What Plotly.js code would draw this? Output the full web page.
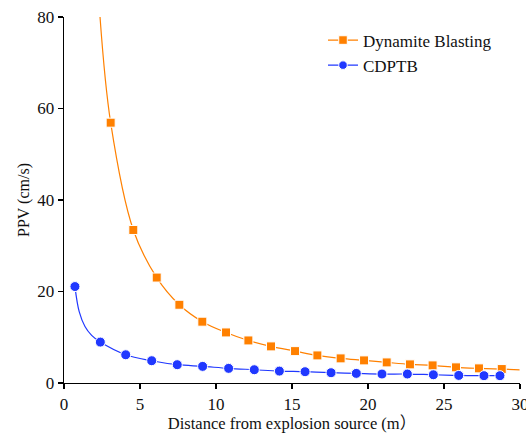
<!DOCTYPE html>
<html>
<head>
<meta charset="utf-8">
<script src="https://cdn.plot.ly/plotly-3.0.1.min.js"></script>
<style>html,body{margin:0;padding:0;background:#fff;}#chart{width:526px;height:434px;}</style>
</head>
<body>
<div id="chart"></div>
<script>
// Dynamite Blasting: measured markers
const dynX = [3.07, 4.56, 6.1, 7.59, 9.1, 10.66, 12.13, 13.62, 15.2, 16.67, 18.2, 19.74, 21.23, 22.76, 24.25, 25.79, 27.3, 28.8, 30.3];
const dynY = [56.9, 33.45, 23.05, 17.1, 13.4, 11.05, 9.3, 8.0, 6.97, 6.03, 5.38, 4.94, 4.5, 4.07, 3.85, 3.42, 3.2, 3.05, 2.85];
// Dynamite Blasting: extra points
const dynCurveX = [2.37];
const dynCurveY = [80];

// CDPTB: measured markers
const cdX = [0.72, 2.39, 4.06, 5.77, 7.45, 9.12, 10.83, 12.52, 14.17, 15.86, 17.57, 19.23, 20.92, 22.59, 24.3, 25.97, 27.63, 28.68];
const cdY = [21.08, 8.94, 6.17, 4.87, 4.0, 3.63, 3.2, 2.9, 2.6, 2.47, 2.25, 2.1, 1.96, 1.96, 1.8, 1.66, 1.6, 1.6];
// CDPTB: extra points
const cdCurveX = [1.0, 1.38, 1.82];
const cdCurveY = [15.6, 12.35, 10.4];

const xTicks = [0, 5, 10, 15, 20, 25, 30];
const yTicks = [0, 20, 40, 60, 80];

function build(mx, my, cx, cy, size) {
  const pts = mx.map((x, i) => ({x: x, y: my[i], s: size}))
    .concat(cx.map((x, i) => ({x: x, y: cy[i], s: 0})));
  pts.sort((a, b) => a.x - b.x);
  return {x: pts.map(p => p.x), y: pts.map(p => p.y), s: pts.map(p => p.s)};
}

const dyn = build(dynX, dynY, dynCurveX, dynCurveY, 9);
const cd = build(cdX, cdY, cdCurveX, cdCurveY, 10);

const orange = 'rgb(255,128,0)';
const blue = 'rgb(32,56,255)';
const fam = 'Liberation Serif, Noto Sans CJK SC, serif';
const txt = {family: fam, size: 16, color: '#111'};

const traces = [
  {x: dyn.x, y: dyn.y, name: 'Dynamite Blasting', type: 'scatter', mode: 'lines+markers',
   line: {color: orange, width: 1.2, shape: 'spline', smoothing: 1},
   marker: {symbol: 'square', color: orange, size: dyn.s, opacity: 1}, cliponaxis: true},
  {x: cd.x, y: cd.y, name: 'CDPTB', type: 'scatter', mode: 'lines+markers',
   line: {color: blue, width: 1.2, shape: 'spline', smoothing: 1},
   marker: {symbol: 'circle', color: blue, size: cd.s, opacity: 1}, cliponaxis: true}
];

const layout = {
  width: 526, height: 434,
  margin: {l: 64, r: 6, t: 17, b: 51},
  paper_bgcolor: '#fff', plot_bgcolor: '#fff',
  font: txt,
  showlegend: true,
  legend: {x: 0.568, y: 0.985, xanchor: 'left', yanchor: 'top', bgcolor: 'rgba(0,0,0,0)',
           font: {family: fam, size: 17, color: '#111'}, tracegroupgap: 0},
  xaxis: {range: [0, 30], tickvals: xTicks, ticktext: xTicks.map(String),
          showgrid: false, zeroline: false, showline: true, linecolor: '#000', linewidth: 1.3,
          ticks: 'outside', ticklen: 5, tickwidth: 1.3, tickcolor: '#000',
          ticklabeloverflow: 'allow',
          tickfont: {family: fam, size: 17, color: '#111'},
          title: {text: 'Distance from explosion source (m）', font: {family: fam, size: 16.5, color: '#111'}, standoff: 2}},
  yaxis: {range: [0, 80], tickvals: yTicks, ticktext: yTicks.map(String),
          showgrid: false, zeroline: false, showline: true, linecolor: '#000', linewidth: 1.3,
          ticks: 'outside', ticklen: 5, tickwidth: 1.3, tickcolor: '#000',
          tickfont: {family: fam, size: 17, color: '#111'},
          title: {text: 'PPV (cm/s)', font: {family: fam, size: 16, color: '#111'}, standoff: 3}}
};

Plotly.newPlot('chart', traces, layout, {displayModeBar: false, staticPlot: true});
</script>
</body>
</html>
